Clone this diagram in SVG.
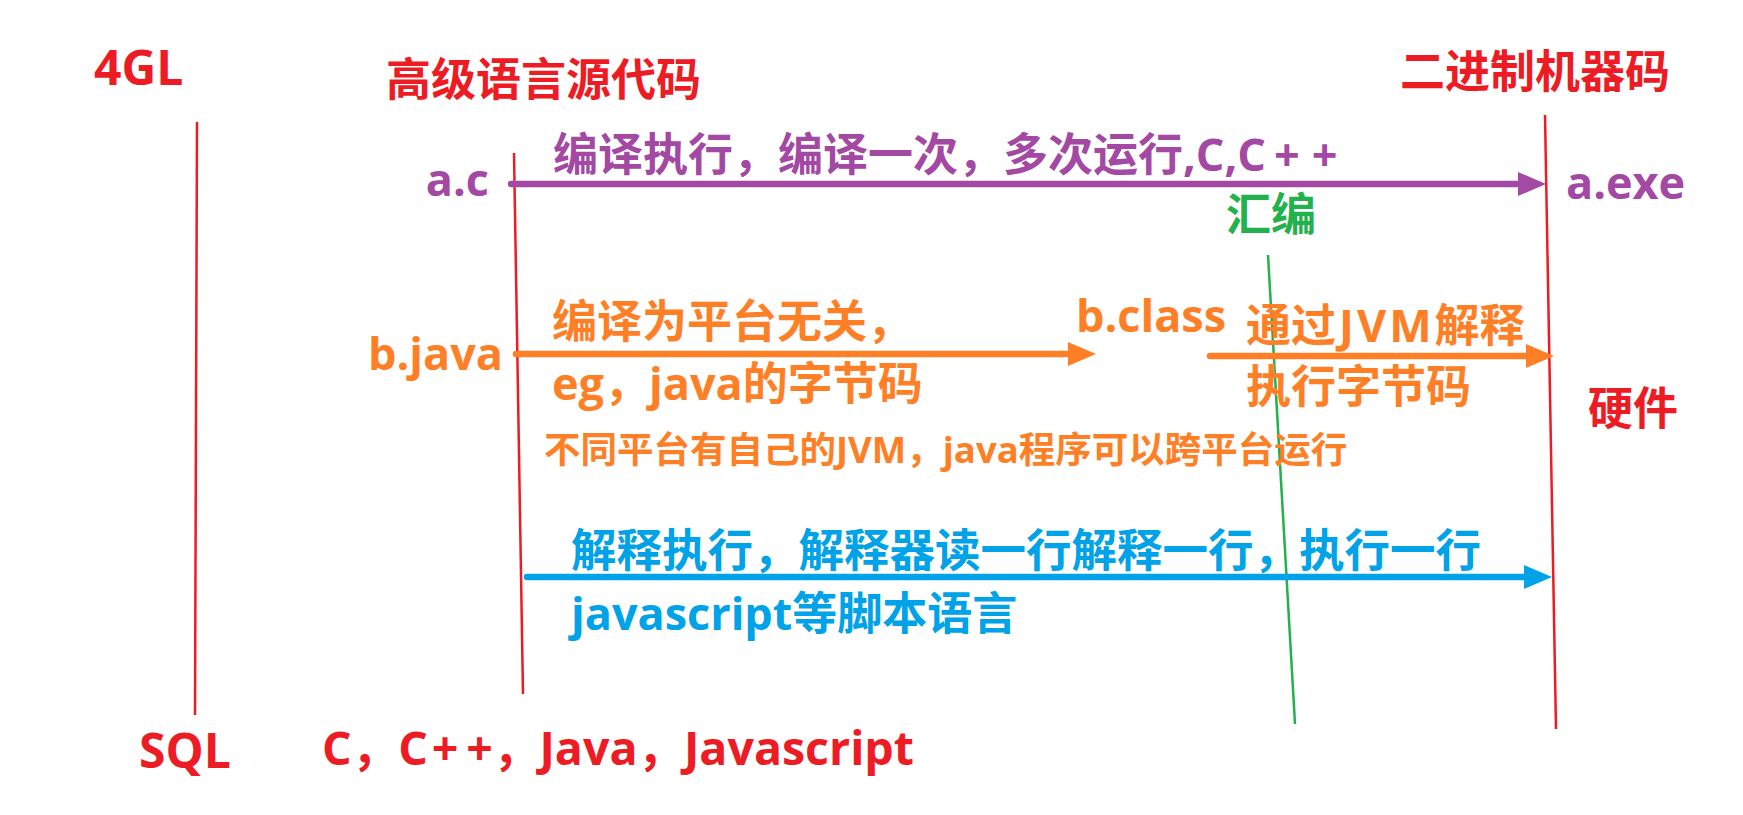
<svg xmlns="http://www.w3.org/2000/svg" width="1743" height="815" viewBox="0 0 1743 815">
<style>
text{font-family:"Open Sans","Noto Sans CJK SC",sans-serif;font-weight:bold;font-size:45px}
.red{fill:#ED1C24}.pur{fill:#A349A4}.org{fill:#FF7F27}.blu{fill:#00A2E8}.grn{fill:#22B14C}
.big{font-size:48px}.small{font-size:36.5px}
.vl{stroke:#ED1C24;stroke-width:2.5;fill:none}
.arr{stroke-width:6.5;stroke-linecap:round;fill:none}
</style>
<defs>
<marker id="mp" markerUnits="userSpaceOnUse" markerWidth="28" markerHeight="24" viewBox="0 0 28 24" refX="8" refY="12" orient="auto"><path d="M0,0L28,12L0,24z" fill="#A349A4"/></marker>
<marker id="mo" markerUnits="userSpaceOnUse" markerWidth="28" markerHeight="24" viewBox="0 0 28 24" refX="8" refY="12" orient="auto"><path d="M0,0L28,12L0,24z" fill="#FF7F27"/></marker>
<marker id="mb" markerUnits="userSpaceOnUse" markerWidth="28" markerHeight="24" viewBox="0 0 28 24" refX="8" refY="12" orient="auto"><path d="M0,0L28,12L0,24z" fill="#00A2E8"/></marker>
</defs>
<rect width="1743" height="815" fill="#fff"/>
<g id="lines">
<line class="vl" x1="197" y1="122" x2="195" y2="715"/>
<line class="vl" x1="514" y1="153" x2="523" y2="694"/>
<line class="vl" x1="1545" y1="115" x2="1556" y2="729"/>
<line x1="1268" y1="255" x2="1295" y2="724" stroke="#22B14C" stroke-width="2.5"/>
</g>
<g id="connectors">
<line class="arr" stroke="#A349A4" x1="511" y1="184" x2="1526" y2="184" marker-end="url(#mp)"/>
<line class="arr" stroke="#FF7F27" x1="516" y1="354" x2="1076" y2="354" marker-end="url(#mo)"/>
<line class="arr" stroke="#FF7F27" x1="1210" y1="356" x2="1534" y2="356" marker-end="url(#mo)"/>
<line class="arr" stroke="#00A2E8" x1="527" y1="577" x2="1532" y2="577" marker-end="url(#mb)"/>
</g>
<g id="n-4gl"><text class="red big" x="94" y="85">4GL</text></g>
<g id="n-high"><text class="red" x="386" y="96">高级语言源代码</text></g>
<g id="n-binary"><text class="red" x="1400" y="88">二进制机器码</text></g>
<g id="n-ac"><text class="pur" x="489" y="196" text-anchor="end">a.c</text></g>
<g id="n-aexe"><text class="pur" x="1566" y="199">a.exe</text></g>
<g id="n-compile"><text class="pur" x="553" y="171">编译执行，编译一次，多次运行,C,C<tspan dx="8">+</tspan><tspan dx="12">+</tspan></text></g>
<g id="n-asm"><text class="grn" x="1226" y="231">汇编</text></g>
<g id="n-bjava"><text class="org" x="503" y="370" text-anchor="end">b.java</text></g>
<g id="n-platform"><text class="org" x="552" y="338">编译为平台无关，</text><text class="org" x="552" y="400">eg，java的字节码</text></g>
<g id="n-jvm-note"><text class="org small" x="544" y="463">不同平台有自己的JVM，java程序可以跨平台运行</text></g>
<g id="n-bclass"><text class="org" x="1076" y="332">b.class</text></g>
<g id="n-jvm"><text class="org" x="1246" y="342">通过<tspan dx="3">J</tspan><tspan dx="3">V</tspan><tspan dx="3">M</tspan><tspan dx="3">解释</tspan></text><text class="org" x="1246" y="403">执行字节码</text></g>
<g id="n-hw"><text class="red" x="1588" y="425">硬件</text></g>
<g id="n-interp"><text class="blu" x="571" y="567" style="font-size:45.5px">解释执行，解释器读一行解释一行，执行一行</text><text class="blu" x="571" y="630">javascript等脚本语言</text></g>
<g id="n-sql"><text class="red big" x="139" y="768">SQL</text></g>
<g id="n-langs"><text class="red" x="322" y="765" style="font-size:46.5px">C，C<tspan dx="4">+</tspan><tspan dx="8">+</tspan>，Java，Javascript</text></g>
</svg>
